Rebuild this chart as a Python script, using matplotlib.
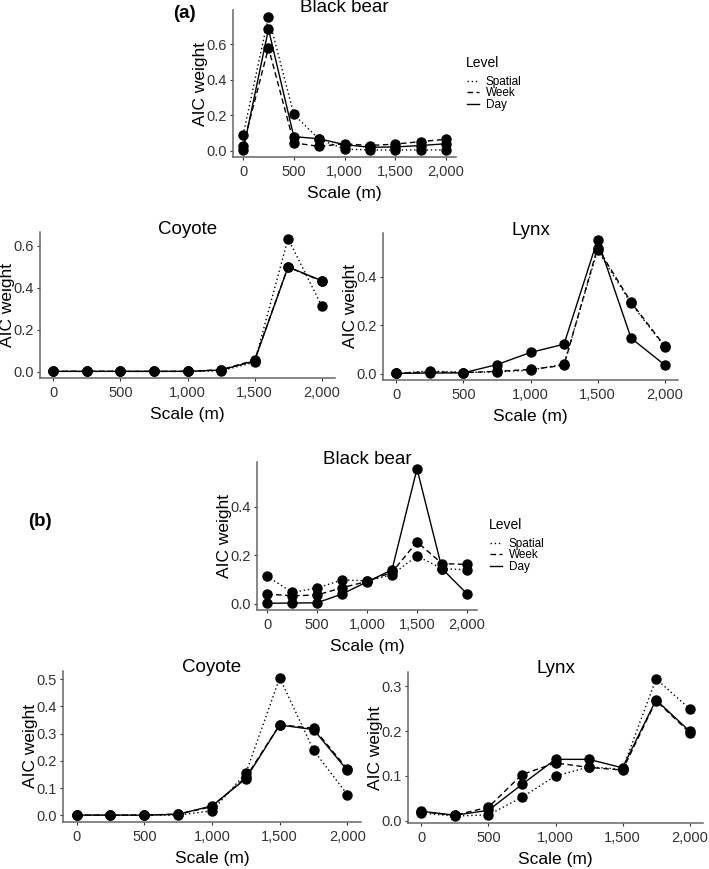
import matplotlib
matplotlib.use("Agg")
import matplotlib.pyplot as plt
from matplotlib.lines import Line2D
from matplotlib.ticker import MultipleLocator, FuncFormatter

plt.rcParams['font.family'] = ['Liberation Sans', 'DejaVu Sans']

scale = [0, 250, 500, 750, 1000, 1250, 1500, 1750, 2000]
levels = ['Spatial', 'Week', 'Day']

# (a)
a_bear_spatial = [0.09, 0.755, 0.205, 0.065, 0.01, 0.005, 0.005, 0.005, 0.005]
a_bear_week = [0.03, 0.58, 0.045, 0.025, 0.04, 0.03, 0.038, 0.052, 0.065]
a_bear_day = [0.003, 0.685, 0.08, 0.068, 0.035, 0.02, 0.022, 0.03, 0.04]

a_coy_spatial = [0.002, 0.002, 0.002, 0.002, 0.002, 0.005, 0.045, 0.635, 0.315]
a_coy_week = [0.002, 0.003, 0.002, 0.002, 0.002, 0.01, 0.055, 0.50, 0.432]
a_coy_day = [0.002, 0.002, 0.002, 0.002, 0.002, 0.008, 0.052, 0.50, 0.435]

a_lynx_spatial = [0.002, 0.012, 0.005, 0.008, 0.015, 0.04, 0.51, 0.29, 0.112]
a_lynx_week = [0.002, 0.008, 0.005, 0.01, 0.018, 0.035, 0.52, 0.295, 0.115]
a_lynx_day = [0.002, 0.003, 0.004, 0.038, 0.088, 0.122, 0.553, 0.147, 0.037]

# (b)
b_bear_spatial = [0.114, 0.047, 0.065, 0.098, 0.095, 0.12, 0.197, 0.145, 0.14]
b_bear_week = [0.04, 0.033, 0.036, 0.066, 0.092, 0.13, 0.255, 0.166, 0.162]
b_bear_day = [0.002, 0.003, 0.004, 0.04, 0.09, 0.14, 0.557, 0.145, 0.041]

b_coy_spatial = [0.001, 0.001, 0.001, 0.001, 0.017, 0.155, 0.505, 0.239, 0.076]
b_coy_week = [0.001, 0.001, 0.001, 0.005, 0.032, 0.14, 0.333, 0.32, 0.17]
b_coy_day = [0.001, 0.001, 0.001, 0.004, 0.035, 0.135, 0.332, 0.315, 0.165]

b_lynx_spatial = [0.017, 0.01, 0.013, 0.052, 0.1, 0.12, 0.115, 0.317, 0.25]
b_lynx_week = [0.02, 0.012, 0.03, 0.103, 0.129, 0.119, 0.113, 0.268, 0.197]
b_lynx_day = [0.021, 0.012, 0.023, 0.081, 0.137, 0.137, 0.118, 0.27, 0.2]

styles = {'Spatial': (0, (1, 2)), 'Week': (0, (4, 2.5)), 'Day': '-'}

W, H = 709, 869
fig = plt.figure(figsize=(W / 100, H / 100), dpi=100)


def box(left, top, right, bottom):
    return [left / W, 1 - bottom / H, (right - left) / W, (bottom - top) / H]


def panel(rect, title, series, ystep):
    ax = fig.add_axes(rect)
    for name, vals in zip(levels, series):
        ax.plot(scale, vals, color='black', linestyle=styles[name], lw=1.0,
                marker='o', markersize=6.5)
    ax.set_xticks([0, 500, 1000, 1500, 2000])
    ax.xaxis.set_major_formatter(FuncFormatter(lambda v, p: f'{int(v):,}'))
    ax.yaxis.set_major_locator(MultipleLocator(ystep))
    ax.yaxis.set_major_formatter(FuncFormatter(lambda v, p: f'{v:.1f}'))
    for s in ['top', 'right']:
        ax.spines[s].set_visible(False)
    for s in ['left', 'bottom']:
        ax.spines[s].set_color('#666666')
        ax.spines[s].set_linewidth(1.1)
    ax.tick_params(labelsize=10.5, colors='#333333', length=2.5, width=0.8)
    ax.tick_params(axis='x', pad=3.5)
    ax.tick_params(axis='y', pad=2)
    ax.set_xlabel('Scale (m)', fontsize=12.5, labelpad=5)
    ax.set_ylabel('AIC weight', fontsize=12.5, labelpad=-1)
    ax.text(0.5, 1.02, title, transform=ax.transAxes, ha='center',
            va='center', fontsize=13.5)
    return ax


def add_legend(ax, x, y):
    # x, y: top-left of the "Level" title in pixels
    fig.text(x / W, 1 - y / H, 'Level', fontsize=10, ha='left', va='top')
    handles = [Line2D([], [], color='black', lw=1.0, linestyle=styles[n])
               for n in levels]
    ax.legend(handles, levels, loc='upper left',
              bbox_to_anchor=((x + 1) / W, 1 - (y + 20) / H),
              bbox_transform=fig.transFigure,
              frameon=False, fontsize=8.5,
              handlelength=1.0, handletextpad=0.6, labelspacing=-0.05,
              borderpad=0, borderaxespad=0)


a1 = panel(box(233, 10, 456, 157), 'Black bear',
           [a_bear_spatial, a_bear_week, a_bear_day], 0.2)
add_legend(a1, 466, 56)
panel(box(40, 232, 335, 378), 'Coyote',
      [a_coy_spatial, a_coy_week, a_coy_day], 0.2)
panel(box(383, 233, 678, 380), 'Lynx',
      [a_lynx_spatial, a_lynx_week, a_lynx_day], 0.2)

b1 = panel(box(257, 462, 477, 610), 'Black bear',
           [b_bear_spatial, b_bear_week, b_bear_day], 0.2)
add_legend(b1, 489, 518)
panel(box(63, 671, 361, 822), 'Coyote',
      [b_coy_spatial, b_coy_week, b_coy_day], 0.1)
panel(box(408, 672, 703, 823), 'Lynx',
      [b_lynx_spatial, b_lynx_week, b_lynx_day], 0.1)

fig.text(184 / W, 1 - 14 / H, '(a)', fontsize=13.5, fontweight='bold',
         ha='center', va='center')
fig.text(40 / W, 1 - 522 / H, '(b)', fontsize=13.5, fontweight='bold',
         ha='center', va='center')

fig.savefig('out.png', dpi=100)
